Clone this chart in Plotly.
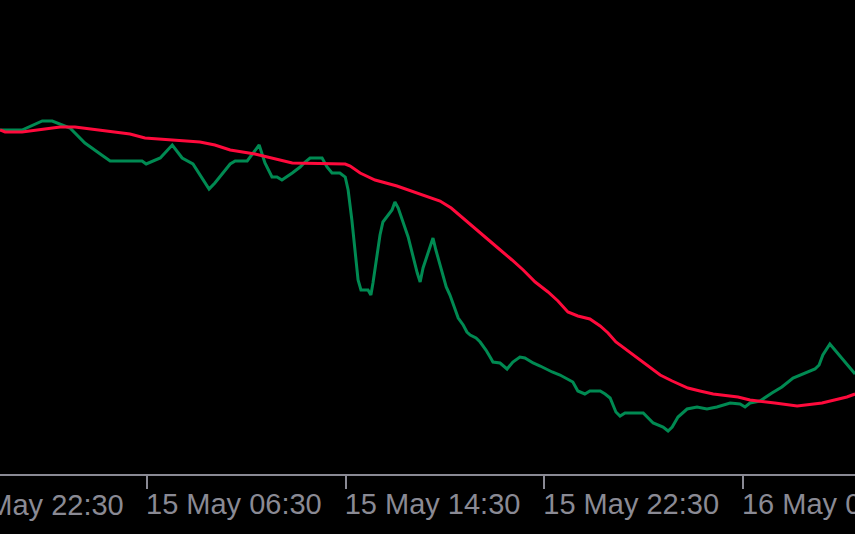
import pandas as pd
import plotly.graph_objects as go

BASE = pd.Timestamp("2024-05-15 00:00")

# time in minutes after 15 May 00:00, value in chart units (price axis not shown)
green_min = [35, 88, 137, 161, 204, 240, 277, 301, 378, 388, 422, 451, 475, 501, 540, 554,
             591, 603, 632, 661, 675, 692, 704, 716, 741, 760, 772, 784, 813, 825, 837, 856,
             869, 876, 885, 900, 907, 924, 931, 936, 953, 960, 982, 989, 997, 1021, 1043, 1050,
             1057, 1074, 1081, 1088, 1113, 1122, 1134, 1142, 1154, 1163, 1171, 1185, 1195, 1209,
             1219, 1226, 1243, 1260, 1274, 1291, 1303, 1323, 1340, 1354, 1369, 1388, 1407, 1419,
             1431, 1448, 1460, 1485, 1497, 1509, 1523, 1533, 1545, 1589, 1613, 1637, 1649, 1659,
             1673, 1695, 1719, 1743, 1767, 1799, 1823, 1835, 1847, 1871, 1900, 1924, 1951, 1968,
             1985, 2004, 2014, 2023, 2040, 2064, 2084, 2101]
green_val = [370, 370, 379, 379, 372, 357, 346, 339, 339, 336, 342, 355, 342, 336, 311, 317,
             336, 339, 339, 355, 337, 323, 323, 320, 327, 333, 338, 342, 342, 333, 327, 327,
             323, 310, 280, 220, 210, 210, 205, 217, 265, 278, 290, 298, 292, 263, 227, 218,
             232, 255, 262, 250, 213, 205, 192, 182, 175, 168, 165, 162, 158, 150,
             143, 138, 137, 131, 138, 143, 142, 137, 134, 131, 128, 125, 121, 118,
             109, 106, 109, 109, 106, 102, 88, 84, 87, 87, 77, 73, 69, 73,
             83, 91, 93, 91, 93, 97, 96, 93, 97, 99, 107, 113, 122, 125,
             128, 131, 135, 145, 156, 144, 134, 126]

red_min = [35, 47, 88, 120, 180, 216, 252, 301, 349, 385, 458, 518, 554, 591, 651, 741, 869,
           881, 905, 941, 994, 1057, 1098, 1125, 1151, 1187, 1214, 1238, 1272, 1299, 1328, 1359,
           1383, 1407, 1431, 1460, 1485, 1504, 1523, 1562, 1598, 1630, 1659, 1697, 1726, 1758,
           1818, 1847, 1907, 1961, 2021, 2052, 2081, 2101]
red_val = [370, 368, 368, 370, 373, 373, 371, 368, 366, 362, 360, 358, 355, 350, 346, 337, 336,
           334, 327, 320, 314, 305, 299, 292, 283, 270, 261, 252, 240, 230, 218, 208,
           199, 188, 184, 181, 174, 167, 158, 146, 134, 125, 119, 112, 109, 106,
           103, 100, 97, 94, 97, 100, 103, 106]

tick_min = [-90, 390, 870, 1350, 1830]   # 14 May 22:30 ... 16 May 06:30
view_min = [34.8, 2100.7]
value_range = [26, 500]

AXIS_COL = "#8a8a94"
FONT = dict(family="Liberation Sans, Arial, sans-serif", size=29, color=AXIS_COL)

def to_time(mins):
    return [BASE + pd.Timedelta(minutes=m) for m in mins]

green_t = to_time(green_min)
red_t = to_time(red_min)
ticks_t = to_time(tick_min)
x0, x1 = to_time(view_min)

fig = go.Figure()
fig.add_trace(go.Scatter(x=green_t, y=green_val, mode="lines",
                         line=dict(color="#008A52", width=3), hoverinfo="skip"))
fig.add_trace(go.Scatter(x=red_t, y=red_val, mode="lines",
                         line=dict(color="#FF0A3C", width=3), hoverinfo="skip"))

in_view = [t for t in ticks_t if x0 <= t <= x1]
out_view = [t for t in ticks_t if not (x0 <= t <= x1)]

fig.update_xaxes(range=[x0, x1], showgrid=False, zeroline=False, automargin=False,
                 showline=True, linecolor=AXIS_COL, linewidth=2,
                 ticks="outside", ticklen=13, tickwidth=2, tickcolor=AXIS_COL,
                 tickvals=in_view, tickformat="%d %b %H:%M",
                 ticklabelposition="outside right", ticklabeloverflow="allow",
                 ticklabelshift=-3, ticklabelstandoff=3, tickfont=FONT)
fig.update_yaxes(range=value_range, visible=False, automargin=False)

span = (x1 - x0).total_seconds()
for t in out_view:
    frac = (t - x0).total_seconds() / span
    fig.add_annotation(x=frac, xref="paper", y=0, yref="paper", yanchor="top",
                       xanchor="left", yshift=-13, xshift=-2, text=t.strftime("%d %b %H:%M"),
                       showarrow=False, font=FONT)

fig.update_layout(width=855, height=534, paper_bgcolor="#000000", plot_bgcolor="#000000",
                  margin=dict(l=0, r=0, t=0, b=60, autoexpand=False), showlegend=False,
                  hovermode=False)

fig.write_html("out.html", config={"displayModeBar": False, "staticPlot": True},
               post_script="document.body.style.margin='0';document.body.style.background='#000';")
